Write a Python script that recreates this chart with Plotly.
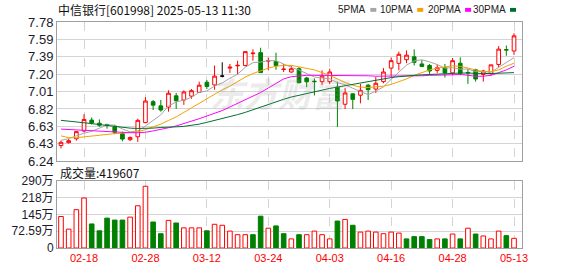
import plotly.graph_objects as go

# ---------------- data ----------------
dates = ["02-13", "02-14", "02-17", "02-18", "02-19", "02-20", "02-21", "02-24", "02-25", "02-26",
         "02-27", "02-28", "03-03", "03-04", "03-05", "03-06", "03-07", "03-10", "03-11", "03-12",
         "03-13", "03-14", "03-17", "03-18", "03-19", "03-20", "03-21", "03-24", "03-25", "03-26",
         "03-27", "03-28", "03-31", "04-01", "04-02", "04-03", "04-07", "04-08", "04-09", "04-10",
         "04-11", "04-14", "04-15", "04-16", "04-17", "04-18", "04-21", "04-22", "04-23", "04-24",
         "04-25", "04-28", "04-29", "04-30", "05-06", "05-07", "05-08", "05-09", "05-12", "05-13"]

opens = [6.413, 6.445, 6.488, 6.574, 6.695, 6.660, 6.645, 6.620, 6.545, 6.478,
         6.510, 6.667, 6.899, 6.852, 6.838, 6.963, 6.917, 6.960, 7.002, 7.113,
         7.084, 7.181, 7.270, 7.295, 7.299, 7.430, 7.441, 7.348, 7.342, 7.255,
         7.227, 7.263, 7.160, 7.125, 7.120, 7.120, 7.059, 6.870, 6.985, 6.970,
         7.081, 7.038, 7.120, 7.270, 7.323, 7.363, 7.395, 7.316, 7.299, 7.245,
         7.274, 7.217, 7.324, 7.222, 7.252, 7.200, 7.209, 7.310, 7.475, 7.459]
highs = [6.467, 6.485, 6.574, 6.760, 6.724, 6.702, 6.655, 6.638, 6.567, 6.513,
         6.710, 6.949, 6.917, 6.917, 7.024, 6.995, 7.024, 7.038, 7.120, 7.138,
         7.299, 7.334, 7.316, 7.352, 7.455, 7.477, 7.495, 7.388, 7.440, 7.316,
         7.300, 7.281, 7.174, 7.156, 7.245, 7.263, 7.120, 7.049, 6.990, 7.095,
         7.095, 7.174, 7.270, 7.388, 7.452, 7.466, 7.477, 7.359, 7.316, 7.310,
         7.316, 7.381, 7.388, 7.263, 7.263, 7.252, 7.306, 7.513, 7.520, 7.656]
lows = [6.381, 6.435, 6.467, 6.560, 6.645, 6.620, 6.600, 6.538, 6.460, 6.463,
        6.453, 6.660, 6.806, 6.788, 6.788, 6.817, 6.863, 6.931, 6.995, 7.038,
        7.031, 7.167, 7.217, 7.200, 7.288, 7.352, 7.220, 7.245, 7.252, 7.227,
        7.217, 7.102, 7.059, 6.967, 7.084, 7.095, 6.620, 6.817, 6.817, 6.880,
        6.917, 6.995, 7.102, 7.174, 7.245, 7.324, 7.299, 7.281, 7.200, 7.217,
        7.166, 7.190, 7.190, 7.095, 7.120, 7.120, 7.190, 7.281, 7.406, 7.416]
closes = [6.449, 6.467, 6.567, 6.702, 6.663, 6.638, 6.635, 6.560, 6.485, 6.503,
          6.692, 6.906, 6.860, 6.806, 6.992, 6.909, 7.006, 7.020, 7.081, 7.067,
          7.181, 7.181, 7.280, 7.300, 7.452, 7.435, 7.220, 7.352, 7.299, 7.258,
          7.263, 7.108, 7.118, 7.120, 7.181, 7.227, 6.906, 6.995, 6.924, 7.024,
          7.031, 7.102, 7.227, 7.352, 7.423, 7.413, 7.334, 7.288, 7.238, 7.274,
          7.217, 7.352, 7.212, 7.218, 7.149, 7.238, 7.306, 7.480, 7.470, 7.627]
# volume in 万 (10k shares)
volumes = [136.7, 81.8, 166.3, 217.0, 104.3, 74.7, 129.7, 121.2, 121.2, 133.9,
           183.2, 267.8, 112.8, 62.0, 119.8, 108.5, 87.4, 87.4, 87.4, 74.7,
           102.9, 98.7, 73.3, 57.8, 57.8, 57.8, 138.1, 86.0, 95.8, 62.0,
           39.5, 57.8, 57.8, 73.3, 57.8, 39.5, 117.0, 124.0, 98.7, 69.0,
           73.3, 69.0, 62.0, 69.0, 64.8, 39.5, 49.3, 49.3, 36.6, 39.5,
           39.5, 60.6, 39.5, 86.0, 60.6, 52.2, 39.5, 73.3, 53.6, 41.96]

ma5 = [6.47, 6.49, 6.52, 6.55, 6.570, 6.607, 6.641, 6.640, 6.596, 6.564,
       6.575, 6.629, 6.689, 6.753, 6.851, 6.895, 6.915, 6.947, 7.002, 7.017,
       7.071, 7.106, 7.158, 7.202, 7.279, 7.330, 7.337, 7.352, 7.352, 7.312,
       7.278, 7.248, 7.211, 7.172, 7.160, 7.152, 7.108, 7.086, 7.047, 7.015,
       6.976, 7.015, 7.062, 7.147, 7.227, 7.303, 7.350, 7.362, 7.339, 7.309,
       7.270, 7.274, 7.259, 7.260, 7.230, 7.234, 7.224, 7.279, 7.328, 7.386]
ma10 = [6.52, 6.50, 6.50, 6.51, 6.52, 6.53, 6.54, 6.545, 6.55, 6.555,
        6.565, 6.59, 6.62, 6.65, 6.69, 6.73, 6.78, 6.83, 6.88, 6.93,
        6.98, 7.03, 7.07, 7.12, 7.17, 7.21, 7.24, 7.27, 7.29, 7.30,
        7.30, 7.285, 7.27, 7.25, 7.22, 7.19, 7.15, 7.11, 7.08, 7.06,
        7.055, 7.06, 7.07, 7.09, 7.12, 7.15, 7.19, 7.22, 7.25, 7.27,
        7.285, 7.295, 7.29, 7.27, 7.25, 7.23, 7.23, 7.25, 7.29, 7.325]
ma20 = [6.595, 6.59, 6.585, 6.58, 6.58, 6.575, 6.57, 6.565, 6.56, 6.555,
        6.555, 6.56, 6.575, 6.59, 6.61, 6.63, 6.655, 6.68, 6.71, 6.74,
        6.77, 6.80, 6.84, 6.88, 6.92, 6.96, 7.00, 7.05, 7.10, 7.15,
        7.175, 7.185, 7.19, 7.19, 7.19, 7.19, 7.19, 7.19, 7.19, 7.19,
        7.185, 7.18, 7.18, 7.18, 7.18, 7.18, 7.18, 7.185, 7.19, 7.19,
        7.195, 7.195, 7.20, 7.19, 7.18, 7.18, 7.19, 7.22, 7.25, 7.29]
ma30 = [6.692, 6.685, 6.677, 6.667, 6.656, 6.645, 6.635, 6.624, 6.613, 6.606,
        6.602, 6.602, 6.606, 6.613, 6.620, 6.620, 6.625, 6.635, 6.65, 6.67,
        6.69, 6.71, 6.73, 6.755, 6.78, 6.81, 6.84, 6.87, 6.90, 6.925,
        6.95, 6.97, 6.99, 7.01, 7.03, 7.045, 7.06, 7.075, 7.09, 7.105,
        7.12, 7.14, 7.155, 7.165, 7.175, 7.185, 7.19, 7.195, 7.20, 7.205,
        7.21, 7.21, 7.215, 7.215, 7.21, 7.21, 7.21, 7.215, 7.215, 7.22]

price_tickvals = [6.24, 6.4325, 6.625, 6.8175, 7.01, 7.2025, 7.395, 7.5875, 7.78]
price_ticktext = ["6.24", "6.43", "6.63", "6.82", "7.01", "7.20", "7.39", "7.59", "7.78"]
vol_tickvals = [0, 72.59, 145.18, 217.77, 290.36]
vol_ticktext = ["0", "72.59万", "145万", "218万", "290万"]
date_ticks = ["02-18", "02-28", "03-12", "03-24", "04-03", "04-16", "04-28", "05-13"]

title_text = "中信银行[601998] 2025-05-13 11:30"
volume_text = "成交量:419607"
ma_names = ["5PMA", "10PMA", "20PMA", "30PMA"]

# ---------------- styles ----------------
RED = "#ff0000"
GREEN = "#008000"
MA_COLORS = ["#a6a6a6", "#f5a000", "#ff00ff", "#00702e"]
GRID = "#d4d4d4"
BORDER = "#a0a0a0"

W, H = 578, 276
ML, MR, MT, MB = 56, 56, 22, 21
PW, PH = W - ML - MR, H - MT - MB


def px_x(px):
    return (px - ML) / PW


def px_y(py):
    return (H - MB - py) / PH


# doji with close == open and equal to previous close drawn in black
flat = [i for i in range(len(dates)) if opens[i] == closes[i]]


def pick(arr, keep):
    return [v if (i in flat) == keep else None for i, v in enumerate(arr)]


fig = go.Figure()

# volume bars
up_vol = [closes[i] >= (closes[i - 1] if i > 0 else opens[i]) for i in range(len(dates))]
fig.add_trace(go.Bar(
    x=dates, y=volumes, xaxis="x2", yaxis="y2", width=0.6,
    marker=dict(color=["#ffffff" if u else GREEN for u in up_vol],
                line=dict(color=[RED if u else GREEN for u in up_vol], width=1)),
    showlegend=False, hoverinfo="skip"))

# candlesticks
fig.add_trace(go.Candlestick(
    x=dates, open=pick(opens, False), high=pick(highs, False),
    low=pick(lows, False), close=pick(closes, False),
    increasing=dict(line=dict(color=RED, width=1), fillcolor="#ffffff"),
    decreasing=dict(line=dict(color=GREEN, width=1), fillcolor=GREEN),
    whiskerwidth=0, showlegend=False, hoverinfo="skip"))
fig.add_trace(go.Candlestick(
    x=dates, open=pick(opens, True), high=pick(highs, True),
    low=pick(lows, True), close=pick(closes, True),
    increasing=dict(line=dict(color="#000000", width=1), fillcolor="#000000"),
    decreasing=dict(line=dict(color="#000000", width=1), fillcolor="#000000"),
    whiskerwidth=0, showlegend=False, hoverinfo="skip"))

# moving averages
for vals, col in zip([ma5, ma10, ma20, ma30], MA_COLORS):
    fig.add_trace(go.Scatter(x=dates, y=vals, mode="lines",
                             line=dict(color=col, width=1),
                             showlegend=False, hoverinfo="skip"))

xcommon = dict(type="category", categoryorder="array", categoryarray=dates,
               range=[-0.52, 60.04], tickmode="array", tickvals=date_ticks,
               showgrid=True, gridcolor=GRID, griddash="dash", gridwidth=1,
               showline=True, linecolor=BORDER, linewidth=1, mirror=True,
               ticks="", zeroline=False, fixedrange=True)

fig.update_layout(
    width=W, height=H, margin=dict(l=ML, r=MR, t=MT, b=MB, pad=0),
    paper_bgcolor="#ffffff", plot_bgcolor="#ffffff",
    boxgap=0.32, bargap=0.4,
    xaxis=dict(**xcommon, anchor="y", showticklabels=False,
               rangeslider=dict(visible=False)),
    xaxis2=dict(**xcommon, anchor="y2", matches="x", showticklabels=True,
                tickfont=dict(family="Liberation Sans, Arial", size=11, color=RED)),
    yaxis=dict(domain=[px_y(165.5), 1], range=[6.24, 7.78], tickmode="array",
               tickvals=price_tickvals, ticktext=price_ticktext,
               showgrid=True, gridcolor=GRID, gridwidth=1, zeroline=False,
               showline=True, linecolor=BORDER, linewidth=1, mirror=True, ticks="",
               tickfont=dict(family="Liberation Sans, Arial", size=13, color="#1a1a2a"),
               fixedrange=True),
    yaxis2=dict(domain=[0, px_y(186)], range=[0, 290.36], tickmode="array",
                tickvals=vol_tickvals, ticktext=vol_ticktext,
                showgrid=True, gridcolor=GRID, gridwidth=1, zeroline=False,
                showline=True, linecolor=BORDER, linewidth=1, mirror=True, ticks="",
                tickfont=dict(family="Liberation Sans, Noto Sans CJK SC", size=12, color="#1a1a2a"),
                fixedrange=True),
    font=dict(family="Liberation Sans, Noto Sans CJK SC"),
)

annotations = []
# watermark
annotations.append(dict(text="东方财富", x=px_x(280), y=px_y(95), xref="paper", yref="paper",
                        showarrow=False, xanchor="center", yanchor="middle",
                        font=dict(family="Noto Sans CJK SC", size=34, color="rgba(150,150,150,0.2)",
                                  weight="bold", style="italic")))
annotations.append(dict(text=title_text, x=px_x(55), y=px_y(9.5), xref="paper", yref="paper",
                        showarrow=False, xanchor="left", yanchor="middle",
                        font=dict(family="Noto Sans CJK SC", size=12, color="#111111")))
annotations.append(dict(text=volume_text, x=px_x(57), y=px_y(177), xref="paper", yref="paper",
                        showarrow=False, xanchor="left", yanchor="middle",
                        font=dict(family="Noto Sans CJK SC", size=12, color="#111111")))
legend_sq_x = [370, 417, 465, 510]
shapes = []
for name, sx, col in zip(ma_names, legend_sq_x, MA_COLORS):
    annotations.append(dict(text=name, x=px_x(sx - 2), y=px_y(9.5), xref="paper", yref="paper",
                            showarrow=False, xanchor="right", yanchor="middle",
                            font=dict(family="Liberation Sans Narrow, Liberation Sans", size=10,
                                      color="#222222")))
    shapes.append(dict(type="rect", xref="paper", yref="paper",
                       x0=px_x(sx), x1=px_x(sx + 6), y0=px_y(11.5), y1=px_y(7.5),
                       fillcolor=col, line=dict(width=0)))
fig.update_layout(annotations=annotations, shapes=shapes)

fig.write_html("out.html")
